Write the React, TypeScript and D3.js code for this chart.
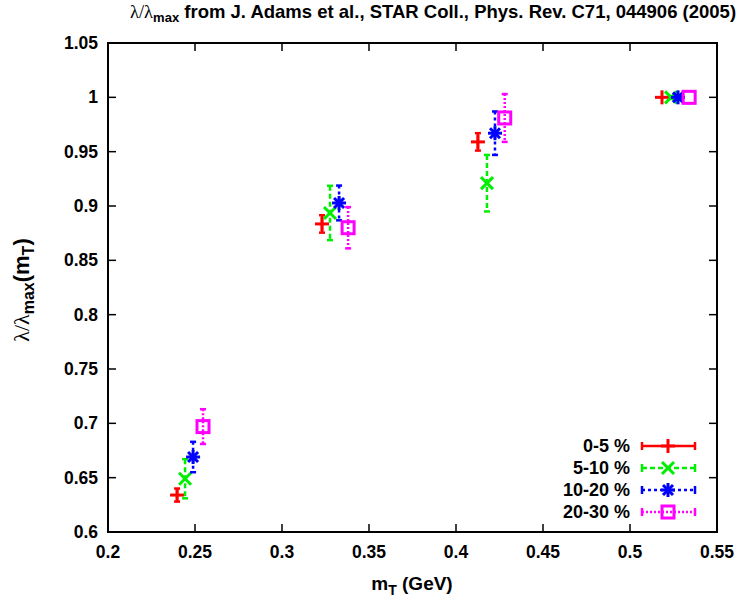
import React from "react";
import * as d3 from "d3";

// Centrality classes
const classes = ["0-5 %", "5-10 %", "10-20 %", "20-30 %"];
const colors = ["#ff0000", "#00ee00", "#0000ff", "#ff00ff"];
const dashes = ["none", "5,3", "3,3", "2,2"];

// m_T (GeV) per centrality class
const mT0 = [0.2397, 0.323, 0.4126, 0.5184];
const mT1 = [0.2443, 0.3276, 0.4178, 0.5236];
const mT2 = [0.2489, 0.3328, 0.4224, 0.5276];
const mT3 = [0.2546, 0.338, 0.428, 0.534];

// lambda / lambda_max
const lam0 = [0.634, 0.8835, 0.959, 1.0];
const lam1 = [0.649, 0.8936, 0.921, 1.0];
const lam2 = [0.669, 0.9028, 0.967, 1.0];
const lam3 = [0.697, 0.88, 0.981, 1.0];

// symmetric errors on lambda / lambda_max
const err0 = [0.006, 0.008, 0.008, 0];
const err1 = [0.018, 0.025, 0.026, 0];
const err2 = [0.014, 0.016, 0.02, 0];
const err3 = [0.016, 0.019, 0.022, 0];

const xTicks = [0.2, 0.25, 0.3, 0.35, 0.4, 0.45, 0.5, 0.55];
const yTicks = [0.6, 0.65, 0.7, 0.75, 0.8, 0.85, 0.9, 0.95, 1.0, 1.05];

const W = 738;
const H = 604;
const left = 108, right = 717, top = 43, bottom = 532;

const x = d3.scaleLinear().domain([0.2, 0.55]).range([left, right]);
const y = d3.scaleLinear().domain([0.6, 1.05]).range([bottom, top]);

const series = [
  { mT: mT0, lam: lam0, err: err0 },
  { mT: mT1, lam: lam1, err: err1 },
  { mT: mT2, lam: lam2, err: err2 },
  { mT: mT3, lam: lam3, err: err3 },
];

const FONT = "'Liberation Sans', Arial, Helvetica, sans-serif";
const LAMBDA_FONT = "'Liberation Serif', 'DejaVu Serif', serif";

function Marker({ type, cx, cy, color }: { type: number; cx: number; cy: number; color: string }) {
  const s = 7;
  const sw = 3;
  if (type === 0) {
    return (
      <g stroke={color} strokeWidth={sw} fill="none">
        <line x1={cx - s} y1={cy} x2={cx + s} y2={cy} />
        <line x1={cx} y1={cy - s} x2={cx} y2={cy + s} />
      </g>
    );
  }
  if (type === 1) {
    const d = 6;
    return (
      <g stroke={color} strokeWidth={sw} fill="none">
        <line x1={cx - d} y1={cy - d} x2={cx + d} y2={cy + d} />
        <line x1={cx - d} y1={cy + d} x2={cx + d} y2={cy - d} />
      </g>
    );
  }
  if (type === 2) {
    const d = 5;
    return (
      <g stroke={color} strokeWidth={sw} fill="none">
        <line x1={cx - s} y1={cy} x2={cx + s} y2={cy} />
        <line x1={cx} y1={cy - s} x2={cx} y2={cy + s} />
        <line x1={cx - d} y1={cy - d} x2={cx + d} y2={cy + d} />
        <line x1={cx - d} y1={cy + d} x2={cx + d} y2={cy - d} />
      </g>
    );
  }
  return (
    <rect x={cx - 6} y={cy - 6} width={12} height={12} stroke={color} strokeWidth={sw} fill="none" />
  );
}

export default function App() {
  const capW = 3;
  return (
    <svg width={W} height={H} style={{ position: "absolute", left: 0, top: 0, background: "#fff" }}>
      <rect x={0} y={0} width={W} height={H} fill="#fff" />

      {/* title */}
      <text x={130} y={18} fontFamily={FONT} fontSize={18.5} fontWeight="bold" fill="#000">
        <tspan fontFamily={LAMBDA_FONT} fontWeight="normal">λ/λ</tspan>
        <tspan fontSize={13} dy={4}>max</tspan>
        <tspan dy={-4}> from J. Adams et al., STAR Coll., Phys. Rev. C71, 044906 (2005)</tspan>
      </text>

      {/* ticks (inward, mirrored) */}
      <g stroke="#000" strokeWidth={1.5}>
        {xTicks.map((t) => (
          <g key={"xt" + t}>
            <line x1={x(t)} x2={x(t)} y1={bottom} y2={bottom - 8} />
            <line x1={x(t)} x2={x(t)} y1={top} y2={top + 8} />
          </g>
        ))}
        {yTicks.map((t) => (
          <g key={"yt" + t}>
            <line x1={left} x2={left + 8} y1={y(t)} y2={y(t)} />
            <line x1={right} x2={right - 8} y1={y(t)} y2={y(t)} />
          </g>
        ))}
      </g>

      {/* tick labels */}
      <g fontFamily={FONT} fontSize={17.5} fontWeight="bold" fill="#000">
        {xTicks.map((t) => (
          <text key={"xl" + t} x={x(t)} y={558} textAnchor="middle">
            {d3.format("")(+t.toFixed(2))}
          </text>
        ))}
        {yTicks.map((t) => (
          <text key={"yl" + t} x={98} y={y(t) + 6} textAnchor="end">
            {d3.format("")(+t.toFixed(2))}
          </text>
        ))}
      </g>

      {/* axis titles */}
      <text x={412} y={590} textAnchor="middle" fontFamily={FONT} fontSize={19} fontWeight="bold" fill="#000">
        m<tspan fontSize={14} dy={5}>T</tspan>
        <tspan dy={-5}> (GeV)</tspan>
      </text>
      <text
        transform={`translate(29,290) rotate(-90)`}
        textAnchor="middle"
        fontFamily={FONT}
        fontSize={22}
        fontWeight="bold"
        fill="#000"
      >
        <tspan fontFamily={LAMBDA_FONT} fontWeight="normal">λ/λ</tspan>
        <tspan fontSize={16} dy={5}>max</tspan>
        <tspan dy={-5}>(m</tspan>
        <tspan fontSize={16} dy={5}>T</tspan>
        <tspan dy={-5}>)</tspan>
      </text>

      {/* data: error bars then markers */}
      {series.map((s, i) => (
        <g key={"s" + i}>
          {s.mT.map((m, j) => {
            const cx = x(m);
            const y1 = y(s.lam[j] + s.err[j]);
            const y2 = y(s.lam[j] - s.err[j]);
            return (
              <g key={j}>
                {s.err[j] > 0 && (
                  <g stroke={colors[i]} strokeWidth={2.5} strokeDasharray={dashes[i]}>
                    <line x1={cx} x2={cx} y1={y1} y2={y2} />
                    <line x1={cx - capW} x2={cx + capW} y1={y1} y2={y1} strokeDasharray="none" />
                    <line x1={cx - capW} x2={cx + capW} y1={y2} y2={y2} strokeDasharray="none" />
                  </g>
                )}
                <Marker type={i} cx={cx} cy={y(s.lam[j])} color={colors[i]} />
              </g>
            );
          })}
        </g>
      ))}

      {/* legend */}
      {classes.map((c, i) => {
        const ly = 446 + i * 22;
        return (
          <g key={"lg" + i}>
            <text x={630} y={ly + 6} textAnchor="end" fontFamily={FONT} fontSize={18} fontWeight="bold" fill="#000">
              {c}
            </text>
            <g stroke={colors[i]} strokeWidth={2.5}>
              <line x1={642} x2={695} y1={ly} y2={ly} strokeDasharray={dashes[i]} />
              <line x1={642} x2={642} y1={ly - 4} y2={ly + 4} />
              <line x1={695} x2={695} y1={ly - 4} y2={ly + 4} />
            </g>
            <Marker type={i} cx={668} cy={ly} color={colors[i]} />
          </g>
        );
      })}

      {/* frame */}
      <rect x={left} y={top} width={right - left} height={bottom - top} fill="none" stroke="#000" strokeWidth={2} />
    </svg>
  );
}
